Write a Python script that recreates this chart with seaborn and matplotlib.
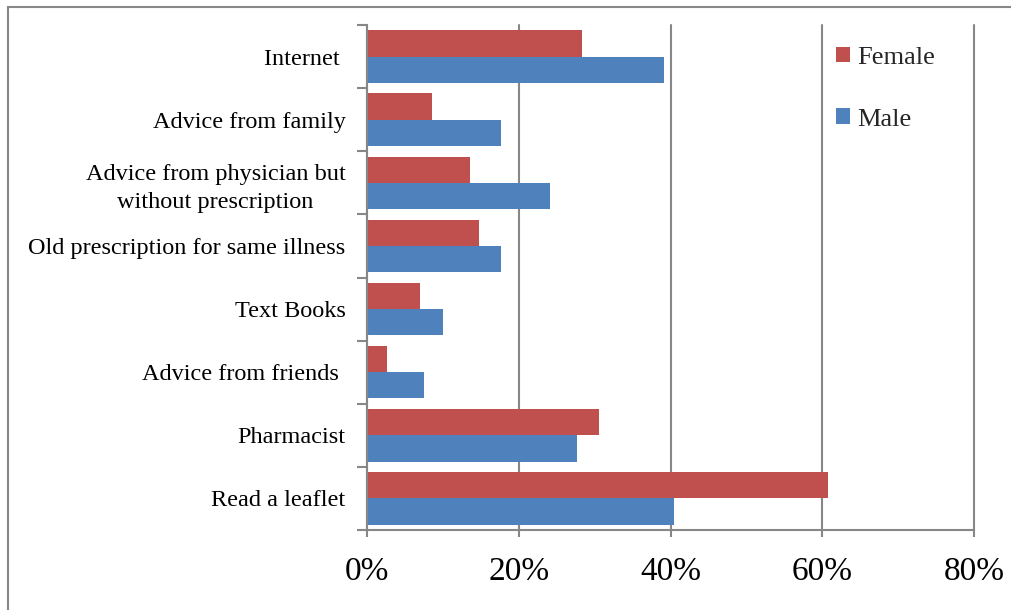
import matplotlib
matplotlib.use("Agg")
import matplotlib.pyplot as plt
import seaborn as sns
import pandas as pd
import numpy as np
from matplotlib.patches import Rectangle
from matplotlib.ticker import FixedLocator, PercentFormatter

categories = [
    "Internet ",
    "Advice from family",
    "Advice from physician but\nwithout prescription",
    "Old prescription for same illness",
    "Text Books",
    "Advice from friends ",
    "Pharmacist",
    "Read a leaflet",
]
female = [28.3, 8.6, 13.6, 14.8, 7.0, 2.6, 30.6, 60.7]
male = [39.1, 17.7, 24.1, 17.7, 10.0, 7.5, 27.7, 40.4]
series = ["Female", "Male"]
colors = ["#C0504D", "#4F81BD"]
x_ticks = [0, 20, 40, 60, 80]

df = pd.DataFrame({
    "Category": categories * 2,
    "Gender": ["Female"] * len(categories) + ["Male"] * len(categories),
    "Value": female + male,
})

sns.set_theme(style="white")
plt.rcParams["font.family"] = ["Liberation Serif", "DejaVu Serif"]

fig = plt.figure(figsize=(10.11, 6.10), dpi=100)
ax = fig.add_axes([367 / 1011, 1 - 530 / 610, (974 - 367) / 1011, (530 - 25) / 610])

sns.barplot(data=df, y="Category", x="Value", hue="Gender", order=categories,
            hue_order=series, palette=colors, orient="h", width=0.83,
            saturation=1, ax=ax, linewidth=0)

ax.set_xlim(0, 80)
ax.set_ylim(len(categories) - 0.5, -0.5)
ax.xaxis.set_major_locator(FixedLocator(x_ticks))
ax.xaxis.set_major_formatter(PercentFormatter(decimals=0))
ax.grid(axis="x", color="#878787", linewidth=1.5)
ax.set_axisbelow(True)
for gl in ax.get_xgridlines():
    gl.set_clip_on(False)
ax.set_xlabel("")
ax.set_ylabel("")

grey = "#878787"
for s in ["top", "right"]:
    ax.spines[s].set_visible(False)
for s in ["left", "bottom"]:
    ax.spines[s].set_color(grey)
    ax.spines[s].set_linewidth(1.5)

ax.tick_params(axis="x", which="major", length=5, width=1.5, color=grey,
               labelsize=24, pad=14, bottom=True)
ax.tick_params(axis="y", which="major", length=0, labelsize=17.5, pad=15.5)
ax.yaxis.set_minor_locator(FixedLocator(np.arange(-0.5, len(categories), 1.0)))
ax.tick_params(axis="y", which="minor", length=7, width=1.5, color=grey, left=True)
for lbl in ax.get_yticklabels():
    lbl.set_multialignment("center")
    lbl.set_linespacing(1.4)
    lbl.set_color("black")
for lbl in ax.get_xticklabels():
    lbl.set_color("black")

handles, labels = ax.get_legend_handles_labels()
ax.legend(handles, labels, loc="upper left", bbox_to_anchor=(0.772, 0.957),
          frameon=False, fontsize=19, handlelength=0.53, handleheight=0.53,
          handletextpad=0.28, labelspacing=1.5, borderpad=0, borderaxespad=0)

fig.patches.append(Rectangle((8 / 1011, -0.1), 1.1, 1.1 - 7 / 610,
                             transform=fig.transFigure, fill=False,
                             edgecolor=grey, linewidth=1.5))

fig.savefig("out.png", dpi=100)
